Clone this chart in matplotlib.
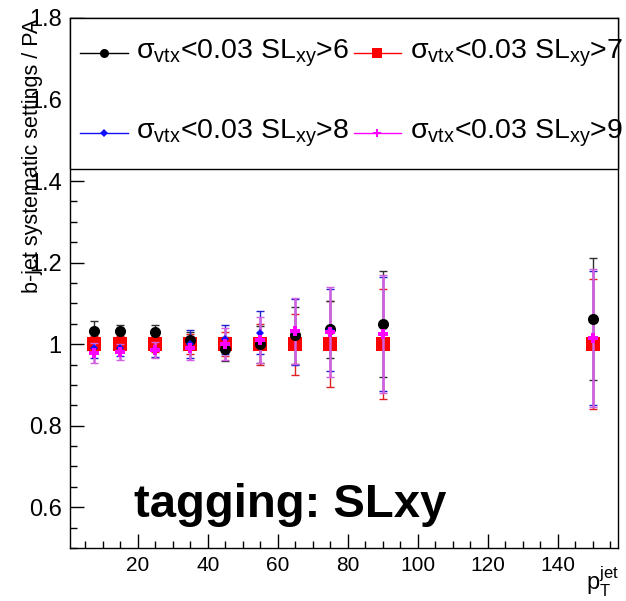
import matplotlib
matplotlib.use('Agg')
import matplotlib.pyplot as plt
from matplotlib.patches import Rectangle
from matplotlib.lines import Line2D
from matplotlib.ticker import MultipleLocator, FuncFormatter

plt.rcParams['font.family'] = ['Liberation Sans', 'DejaVu Sans']
plt.rcParams['mathtext.fontset'] = 'custom'
plt.rcParams['mathtext.rm'] = 'Liberation Sans'
plt.rcParams['mathtext.it'] = 'Liberation Sans:italic'
plt.rcParams['mathtext.bf'] = 'Liberation Sans:bold'

# jet pT bin centres
pt_jet = [7.5, 15, 25, 35, 45, 55, 65, 75, 90, 150]

# ratio of b-jet tagging efficiency for each systematic setting over the default
ratio_sl6 = [1.032, 1.033, 1.029, 1.010, 0.988, 1.000, 1.022, 1.036, 1.050, 1.062]
err_sl6 = [0.025, 0.015, 0.018, 0.020, 0.030, 0.045, 0.070, 0.070, 0.130, 0.150]

ratio_sl7 = [1.000, 1.000, 1.000, 1.000, 1.000, 1.000, 1.000, 1.000, 1.000, 1.000]
err_sl7 = [0.020, 0.020, 0.020, 0.025, 0.030, 0.050, 0.075, 0.105, 0.135, 0.160]

ratio_sl8 = [0.990, 0.990, 0.988, 1.000, 1.012, 1.028, 1.030, 1.035, 1.025, 1.015]
err_sl8 = [0.025, 0.020, 0.020, 0.035, 0.035, 0.053, 0.080, 0.100, 0.140, 0.165]

ratio_sl9 = [0.978, 0.980, 0.985, 0.990, 1.000, 1.010, 1.032, 1.030, 1.024, 1.015]
err_sl9 = [0.025, 0.020, 0.020, 0.030, 0.040, 0.057, 0.080, 0.110, 0.145, 0.170]

legend_labels = [
    r'$\mathregular{\sigma_{vtx}}$<0.03 SL$\mathregular{_{xy}}$>6',
    r'$\mathregular{\sigma_{vtx}}$<0.03 SL$\mathregular{_{xy}}$>7',
    r'$\mathregular{\sigma_{vtx}}$<0.03 SL$\mathregular{_{xy}}$>8',
    r'$\mathregular{\sigma_{vtx}}$<0.03 SL$\mathregular{_{xy}}$>9',
]

W, H = 626, 601
fig = plt.figure(figsize=(W / 100, H / 100), dpi=100)
ax = fig.add_axes([70 / W, 53 / H, 548 / W, 530 / H])

ax.set_xlim(0.6, 157.2)
ax.set_ylim(0.5, 1.8)

# series styles: (values, errors, marker colour, bar colour, marker, size, bar width, zorder)
series = [
    (ratio_sl7, err_sl7, '#ff0000', '#e02020', 's', 9.5, 1.0, 4),
    (ratio_sl6, err_sl6, '#000000', '#303030', 'o', 8, 1.0, 5),
    (ratio_sl8, err_sl8, '#1010ff', '#2020d0', 'D', 4.5, 1.0, 6),
    (ratio_sl9, err_sl9, '#ff00ff', '#d060e0', 'P', 7, 1.8, 7),
]
for vals, errs, mc, bc, mk, ms, lw, z in series:
    ax.errorbar(pt_jet, vals, yerr=errs, fmt='none', ecolor=bc,
                elinewidth=lw, capsize=3, capthick=1.0, zorder=z - 3)
    ax.plot(pt_jet, vals, linestyle='none', marker=mk, markersize=ms,
            color=mc, markeredgewidth=0, zorder=z)

# axis ticks
ax.xaxis.set_major_locator(MultipleLocator(20))
ax.xaxis.set_minor_locator(MultipleLocator(5))
ax.yaxis.set_major_locator(MultipleLocator(0.2))
ax.yaxis.set_minor_locator(MultipleLocator(0.05))
ax.yaxis.set_major_formatter(FuncFormatter(lambda v, p: f'{v:g}'))
ax.tick_params(which='both', direction='in', top=False, right=False, width=1)
ax.tick_params(axis='x', labelsize=15)
ax.tick_params(axis='y', labelsize=17)
ax.tick_params(which='major', length=10, pad=6)
ax.tick_params(which='minor', length=5)
for s in ax.spines.values():
    s.set_linewidth(1.0)

# legend box in the upper part of the frame
leg_bottom = 1.43
ax.add_patch(Rectangle((0, leg_bottom), 1, 1.8 - leg_bottom,
                       transform=ax.get_yaxis_transform(),
                       facecolor='white', edgecolor='black', lw=1.0,
                       zorder=10, clip_on=False))

def yfrac(v):
    return (v - 0.5) / 1.3

rows = [yfrac(1.714), yfrac(1.518)]
cols = [(0.018, 0.106, 0.120), (0.518, 0.604, 0.620)]
leg_styles = [
    ('#000000', 'o', 6.5),
    ('#ff0000', 's', 7),
    ('#1010ff', 'D', 4),
    ('#ff00ff', 'P', 6),
]
for i, (lab, (c, mk, ms)) in enumerate(zip(legend_labels, leg_styles)):
    r = rows[i // 2]
    x0, x1, xt = cols[i % 2]
    ax.add_line(Line2D([x0, x1], [r, r], transform=ax.transAxes, color=c,
                       lw=1.0, zorder=11))
    ax.add_line(Line2D([(x0 + x1) / 2], [r], transform=ax.transAxes,
                       color=c, marker=mk, markersize=ms,
                       markeredgewidth=0, zorder=12))
    ax.text(xt, r, lab, transform=ax.transAxes, fontsize=20.5,
            va='center', ha='left', zorder=12)

# caption
ax.text(19, 0.575, 'tagging: SLxy', fontsize=34, fontweight='bold',
        ha='left', va='baseline', zorder=12)

# axis titles
fig.text(33 / W, 1 - 19 / H, 'b-jet systematic settings / PA', rotation=90,
         fontsize=15.5, ha='center', va='top')
fig.text(619 / W, 1 - 599 / H, r'$\mathregular{p_{T}^{jet}}$', fontsize=17,
         ha='right', va='bottom')

fig.savefig('out.png', dpi=100)
